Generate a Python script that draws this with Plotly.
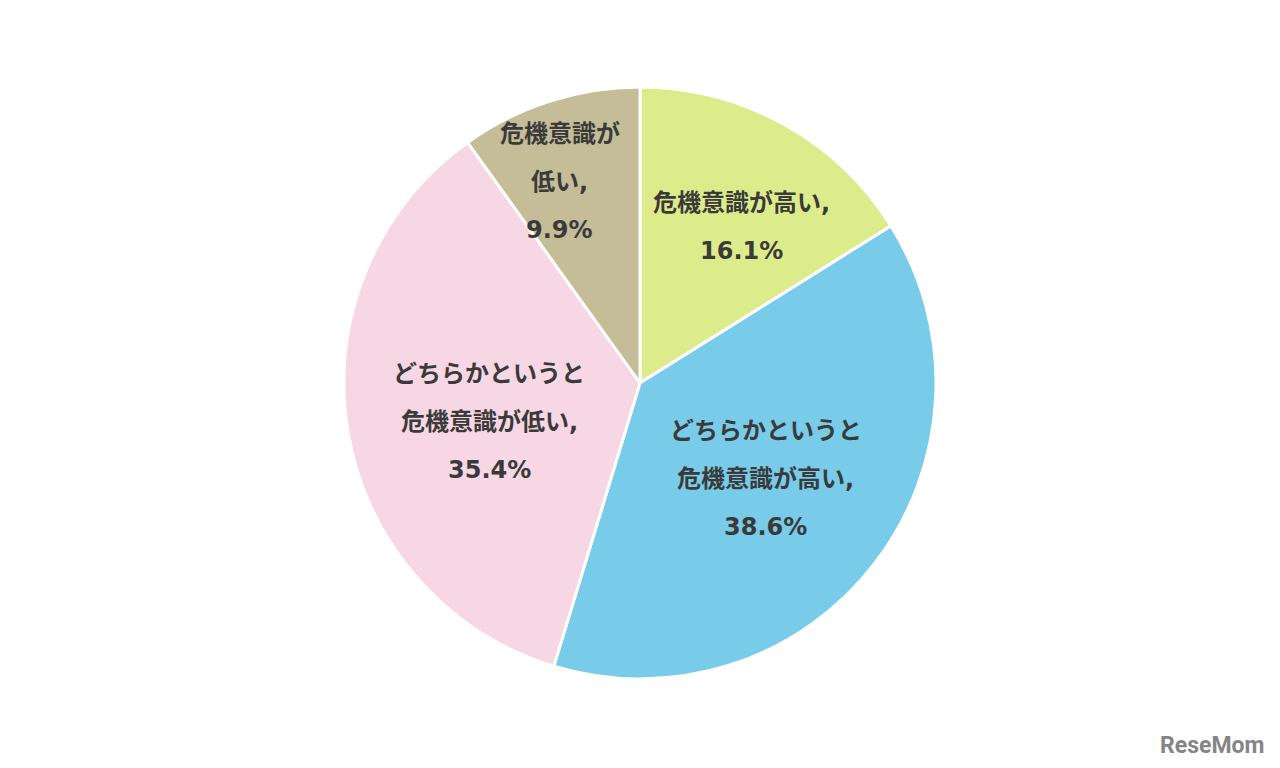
import math
import plotly.graph_objects as go

labels = ["危機意識が高い", "どちらかというと危機意識が高い", "どちらかというと危機意識が低い", "危機意識が低い"]
values = [16.1, 38.6, 35.4, 9.9]
label_lines = [["危機意識が高い,", "16.1%"],
               ["どちらかというと", "危機意識が高い,", "38.6%"],
               ["どちらかというと", "危機意識が低い,", "35.4%"],
               ["危機意識が", "低い,", "9.9%"]]
colors = ["#DDEC8B", "#78CBE9", "#F8D7E5", "#C5BD98"]

# layout/style constants
W, H = 1280, 768
OFF = 8  # page body margin offset
cx, cy, r = 640 - OFF, 383 - OFF, 296
label_rf = [0.63, 0.535, 0.525, 0.73]
label_nudge = [4, 0, -5, -4]
line_gap = 48
FONT = "DejaVu Sans, Noto Sans CJK JP"

fig = go.Figure(go.Pie(
    labels=labels, values=values, textinfo="none",
    sort=False, direction="clockwise", rotation=0,
    marker=dict(colors=colors, line=dict(color="white", width=3)),
    hoverinfo="label+percent",
    domain=dict(x=[(cx - r) / W, (cx + r) / W], y=[(H - cy - r) / H, (H - cy + r) / H]),
    showlegend=False,
))

total = sum(values)
cum = 0.0
for v, lines, rf, nd in zip(values, label_lines, label_rf, label_nudge):
    ang = math.radians((cum + v / 2) / total * 360 + nd)
    cum += v
    px = cx + rf * r * math.sin(ang)
    py = cy - rf * r * math.cos(ang)
    n = len(lines)
    for i, line in enumerate(lines):
        fig.add_annotation(text=line, x=px / W, y=1 - py / H, xref="paper", yref="paper",
                           xanchor="center", yanchor="middle", showarrow=False,
                           yshift=((n - 1) / 2 - i) * line_gap,
                           font=dict(family=FONT, size=24, color="#3a3a3a", weight="bold"))

fig.add_annotation(text="ReseMom", x=(1266 - OFF) / W, y=1 - (745 - OFF) / H,
                   xref="paper", yref="paper", xanchor="right", yanchor="middle",
                   showarrow=False,
                   font=dict(family="Roboto", size=23, color="#858585", weight="bold"))
fig.update_layout(width=W, height=H, margin=dict(l=0, r=0, t=0, b=0),
                  paper_bgcolor="white", plot_bgcolor="white")
fig.write_html("out.html")
